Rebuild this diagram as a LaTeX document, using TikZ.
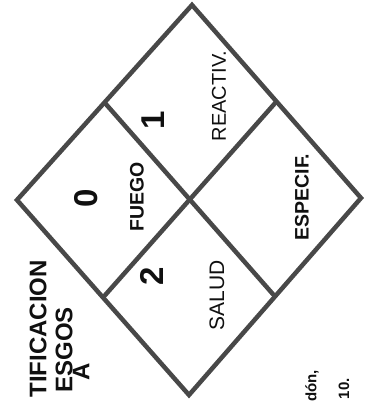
\documentclass[tikz,border=0pt]{standalone}
\usepackage{fontspec}
\setmainfont{Liberation Sans}
\usetikzlibrary{positioning,calc}
\usepackage{xcolor}
\definecolor{LineGray}{HTML}{484848}
\definecolor{InkBlack}{HTML}{101010}

\begin{document}
\begin{tikzpicture}[x=1pt, y=-1pt,
    edge/.style={draw=LineGray, line width=4.5pt, line join=miter},
    num/.style={font=\bfseries\fontsize{33}{33}\selectfont, text=InkBlack, rotate=90, inner sep=0pt},
    lbl/.style={font=\fontsize{20}{20}\selectfont, text=InkBlack, rotate=90, inner sep=0pt},
    lblbold/.style={font=\bfseries\fontsize{19.5}{19.5}\selectfont, text=InkBlack, rotate=90, inner sep=0pt},
    title/.style={font=\bfseries\fontsize{24}{24}\selectfont, text=InkBlack, rotate=90, inner sep=0pt, anchor=east},
    note/.style={font=\bfseries\fontsize{15}{15}\selectfont, text=InkBlack, rotate=90, inner sep=0pt, anchor=east}
  ]
    \useasboundingbox (0,0) rectangle (367,401);
    \fill[white] (0,0) rectangle (367,401);

    % Diamond corners and edge midpoints
    \coordinate (L) at (17,200);
    \coordinate (T) at (192,5);
    \coordinate (R) at (361,198);
    \coordinate (B) at (189,395);
    \coordinate (LT) at ($(L)!0.5!(T)$);
    \coordinate (TR) at ($(T)!0.5!(R)$);
    \coordinate (RB) at ($(R)!0.5!(B)$);
    \coordinate (BL) at ($(B)!0.5!(L)$);

    % Diamond
    \draw[edge] (L) -- (T) -- (R) -- (B) -- cycle;
    \draw[edge] (LT) -- (RB);
    \draw[edge] (TR) -- (BL);

    % Fire quadrant
    \node[num] (n0) at (86,198) {0};
    \node[lblbold] (fire) at (137,197) {FUEGO};

    % Reactivity quadrant
    \node[num] (n1) at (153,120) {1};
    \node[lbl] (react) at (219,96) {REACTIV.};

    % Health quadrant
    \node[num] (n2) at (152,276) {2};
    \node[lbl, font=\fontsize{21}{21}\selectfont] (health) at (217,295) {SALUD};

    % Special quadrant
    \node[lblbold] (spec) at (302,197) {ESPECIF.};

    % Cut-off title and note
    \node[title] (t1) at (38,260) {TIFICACION};
    \node[title] (t2) at (64,307) {ESGOS};
    \node[title] (t3) at (81,363) {A};
    \node[note] (m1) at (312,370) {dón,};
    \node[note] (m2) at (344,378) {10.};

  \end{tikzpicture}
\end{document}
